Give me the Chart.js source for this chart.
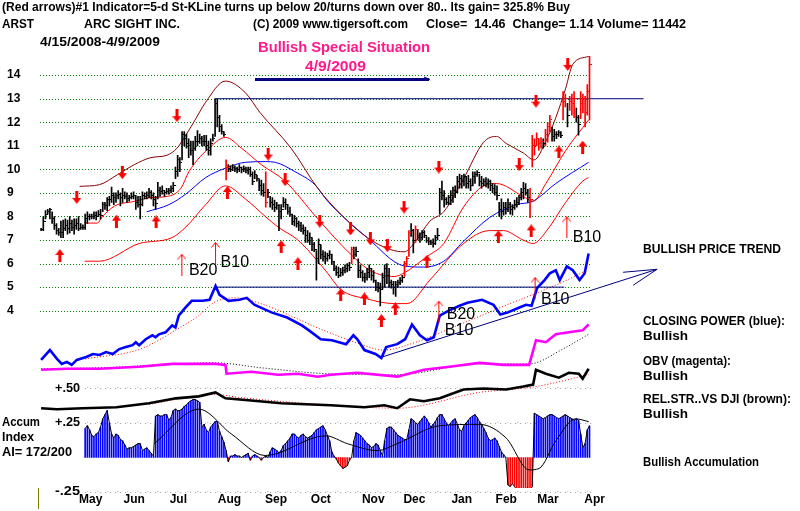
<!DOCTYPE html>
<html><head><meta charset="utf-8">
<script src="https://cdn.jsdelivr.net/npm/chart.js@4/dist/chart.umd.min.js"></script>
<style>html,body{margin:0;padding:0;background:#fff;}#wrap{width:800px;height:511px;}</style>
</head><body><div id="wrap"><canvas id="c" width="800" height="511"></canvas></div>
<script>
// ---------- DATA ----------
const monthLabels = ['May','Jun','Jul','Aug','Sep','Oct','Nov','Dec','Jan','Feb','Mar','Apr'];
const monthTickDays = [22.5,42.3,62.3,85.5,106.7,127,150.8,169.5,191,211.2,230.1,251.3];
const priceTicks = [4,5,6,7,8,9,10,11,12,13,14];

const highs = [7.5,8.0,8.25,8.3,8.35,8.2,8.0,7.7,7.5,7.8,
7.85,7.9,7.85,8.0,7.85,7.9,7.9,8.0,7.7,7.65,
8.1,8.2,8.1,8.1,8.2,8.2,8.25,8.3,8.6,8.6,
8.8,8.85,9.25,9.0,9.0,9.1,9.0,9.2,9.05,9.0,
8.9,9.0,9.05,8.9,8.85,8.85,9.05,9.0,9.05,9.2,
9.1,9.0,8.85,9.45,9.25,9.3,9.1,9.2,9.2,9.3,
9.45,10.1,10.6,10.5,11.6,11.6,11.5,11.3,11.2,11.2,
11.4,11.65,11.5,11.4,11.45,11.45,11.2,11.3,11.5,13.0,
13.0,12.3,11.9,11.6,10.4,10.2,10.15,10.2,10.15,10.1,
10.2,10.1,10.15,10.1,10.1,10.1,9.9,9.95,9.75,9.6,
9.55,9.4,9.9,9.15,8.85,8.8,8.7,8.6,8.5,8.5,
8.8,8.75,8.5,8.4,8.1,8.05,7.95,7.8,7.75,7.65,
7.55,7.4,7.3,7.1,6.9,6.55,7.05,6.8,6.55,6.5,
6.45,6.55,6.4,6.1,5.9,5.85,5.8,5.85,5.95,6.0,
6.05,6.7,6.7,6.7,6.2,5.95,5.7,5.6,5.8,5.95,
5.8,5.7,5.3,5.2,5.17,5.6,5.95,6.0,5.8,5.3,
5.25,5.25,5.3,5.4,5.5,6.1,6.3,7.4,7.7,7.45,
7.6,7.45,7.3,7.4,7.4,7.15,7.1,7.0,7.05,7.2,
7.5,9.2,9.5,9.1,8.8,8.9,9.1,9.25,9.3,9.7,
9.8,9.75,9.8,9.7,9.75,9.6,9.9,9.9,9.95,9.8,
9.7,9.6,9.65,9.6,9.55,9.4,9.35,9.3,8.6,8.75,
8.6,8.6,8.75,8.6,8.5,8.7,8.8,8.9,9.2,9.45,
9.4,9.15,9.2,11.45,11.3,11.55,11.3,11.35,11.3,11.7,
12.0,12.3,11.8,11.7,11.6,11.65,11.6,13.3,13.2,12.8,
13.1,13.2,13.3,12.6,12.3,13.3,13.2,13.1,13.6,14.8];

const lows = [7.4,7.4,7.9,8.1,7.9,7.7,7.45,7.25,7.2,7.1,
7.1,7.4,7.25,7.3,7.4,7.25,7.45,7.4,7.45,7.45,
7.45,7.7,7.85,7.9,7.9,7.85,8.0,7.9,8.2,8.3,
8.25,8.45,8.6,8.5,8.6,8.75,8.45,8.6,8.75,8.6,
8.65,8.75,8.75,8.3,8.4,7.9,8.45,8.75,8.75,8.8,
8.75,8.45,8.3,8.75,8.85,8.95,8.85,8.95,8.95,9.0,
9.05,9.6,9.7,9.9,10.4,11.0,10.9,10.5,10.6,10.2,
10.8,11.0,11.1,11.0,11.0,10.8,10.6,10.6,11.2,11.4,
11.8,11.6,11.5,11.4,9.55,9.9,9.9,9.95,9.9,9.85,
9.9,9.85,9.9,9.85,9.8,9.7,9.35,9.6,9.5,9.1,
8.9,8.85,8.4,8.8,8.4,8.3,8.2,8.3,7.4,7.9,
8.4,8.3,8.1,8.0,7.65,7.6,7.55,7.4,7.35,7.25,
6.9,6.9,6.8,6.55,6.5,5.3,6.0,6.2,6.1,6.0,
6.1,6.2,5.95,5.7,5.5,5.4,5.45,5.5,5.6,5.65,
5.7,6.0,6.2,6.3,5.4,5.4,5.25,5.2,5.3,5.4,
5.3,5.2,4.85,4.8,4.2,4.9,5.0,5.15,5.0,4.95,
4.7,4.6,5.0,5.1,5.2,5.45,5.9,6.3,7.15,6.45,
6.9,7.0,6.9,7.0,7.1,6.9,6.8,6.8,6.7,6.8,
7.0,8.1,8.7,8.4,8.5,8.5,8.5,8.6,8.8,9.0,
9.2,9.2,9.3,9.2,9.2,9.1,9.3,9.4,9.7,9.3,
9.2,9.3,9.25,9.2,9.1,9.0,8.9,8.7,8.0,7.9,
8.05,8.1,8.2,8.1,8.05,8.3,8.4,8.5,8.7,8.75,
8.9,8.6,7.95,10.1,10.6,11.0,10.8,10.9,10.9,11.0,
11.15,11.6,11.2,11.2,11.3,11.4,11.35,12.1,12.65,11.8,
12.5,12.3,12.2,12.0,11.45,12.15,12.4,11.8,12.3,12.1];

const closes = [7.45,7.8,8.1,8.2,8.3,7.9,7.6,7.4,7.3,7.3,
7.5,7.6,7.5,7.7,7.55,7.6,7.7,7.5,7.55,7.55,
7.9,8.0,8.0,8.0,8.05,8.0,8.1,8.05,8.5,8.45,
8.7,8.7,8.9,8.8,8.9,8.95,8.8,8.9,8.85,8.75,
8.8,8.85,8.9,8.6,8.5,8.5,8.9,8.85,8.9,9.0,
8.9,8.7,8.55,9.1,9.05,9.1,9.0,9.05,9.1,9.2,
9.3,9.9,10.4,10.3,11.5,11.3,11.1,11.0,10.8,10.9,
11.2,11.2,11.3,11.2,11.2,11.0,10.8,11.1,11.3,12.8,
12.2,11.8,11.6,11.5,10.1,10.05,10.0,10.1,10.05,10.0,
10.1,10.0,10.05,9.95,10.0,9.8,9.5,9.8,9.6,9.3,
9.1,9.0,8.6,9.0,8.6,8.5,8.4,8.45,8.2,8.3,
8.6,8.5,8.2,8.1,7.8,7.9,7.7,7.6,7.5,7.4,
7.2,7.0,7.1,6.8,6.6,6.2,6.8,6.4,6.3,6.2,
6.35,6.4,6.1,5.8,5.6,5.5,5.6,5.7,5.8,5.9,
5.85,6.6,6.4,6.5,5.7,5.6,5.4,5.4,5.6,5.8,
5.5,5.3,5.0,4.95,4.9,5.4,5.8,5.5,5.2,5.1,
5.0,5.1,5.2,5.3,5.4,6.0,6.2,7.3,7.4,7.0,
7.45,7.2,7.1,7.3,7.2,7.0,6.95,6.9,6.85,7.1,
7.2,9.0,8.9,8.7,8.6,8.8,8.9,9.1,9.0,9.5,
9.6,9.5,9.7,9.4,9.5,9.3,9.7,9.8,9.85,9.5,
9.4,9.5,9.4,9.5,9.3,9.2,9.0,8.9,8.3,8.2,
8.4,8.3,8.5,8.3,8.4,8.5,8.6,8.8,9.0,9.2,
9.0,8.8,8.7,11.0,11.0,11.3,11.1,11.2,11.1,11.5,
11.8,12.1,11.4,11.5,11.5,11.55,11.45,12.9,13.0,12.3,
12.9,12.8,13.0,12.2,11.9,12.8,13.0,12.4,13.32,14.46];

const signalBars = [84,102,141,165,166,167,170,222,223,224,225,226,227,229,230,231,237,238,240,241,242,245,246,247,248,249];

const upperBand = [[17.5,9.28],[26.5,9.35],[34.6,9.77],[42.3,10.2],[49.9,10.5],[57.2,10.6],[61.7,10.9],[64,11.2],[69.3,12.0],[74.7,12.85],[83.7,13.75],[92.7,13.26],[99.5,12.4],[113.5,10.9],[125.6,9.2],[136,8.1],[148.1,7.1],[158.5,6.6],[164.8,6.5],[169.3,6.85],[176.5,7.8],[182.8,8.2],[191.8,9.6],[200.9,11.15],[206.7,11.4],[211.2,11.1],[218.9,10.7],[223.8,10.4],[229.2,11.2],[233.7,12.2],[238.2,13.45],[241.4,14.46],[248.6,14.8]];
const upperInner = [[19.8,7.72],[25.6,7.72],[27.5,7.95],[33.3,8.44],[42.3,8.64],[50,8.8],[57.2,8.85],[63.5,9.2],[67.1,9.9],[77.4,11.0],[83.7,11.36],[91,10.9],[100,10.2],[110.8,9.5],[125.6,7.9],[140.5,6.4],[149.5,5.7],[160.3,5.45],[164.8,5.6],[175.2,6.3],[182.8,6.85],[191.8,8.4],[200.9,9.3],[206.7,9.4],[218.9,8.85],[223.4,8.65],[229.2,9.4],[238.2,10.8],[248.6,12.1]];
const movingAvg = [[48,8.2],[58,8.5],[65.7,8.95],[74.7,9.65],[83.7,10.05],[92.7,10.3],[101.8,10.33],[106.3,10.3],[115.3,9.9],[124.3,9.35],[130.1,8.65],[148.1,7.1],[164.8,5.9],[173.8,5.85],[182.8,6.1],[191.8,6.95],[203.6,7.95],[215.7,8.5],[223.4,8.65],[233.7,9.4],[248.6,10.3]];
const lowerBand = [[19.8,6.1],[26.5,6.1],[44.5,6.85],[59.4,7.1],[65.7,7.55],[74.7,8.5],[83.7,9.3],[92.7,8.75],[101.8,8.0],[107.6,7.55],[116.6,7.0],[125.6,6.1],[130,5.6],[136,4.9],[148,4.5],[160.3,4.3],[166.2,4.3],[176.5,5.3],[191.8,6.85],[203.6,7.4],[209.9,7.4],[218.9,7.0],[223.4,6.85],[229.2,7.35],[238.2,8.6],[245.9,9.5],[248.6,9.65]];

const resistanceLine = [[79,13],[273.5,13]];
const supportLine = [[79,5],[237.5,5]];

const sellArrows = [[16.2,8.81],[36.9,9.86],[61.7,12.28],[103.1,10.65],[110.8,9.56],[126.5,7.8],[140.5,7.47],[149.5,7.05],[157.2,6.76],[164.8,8.4],[180.6,10.1],[217.1,10.2],[224.7,12.9],[239.1,14.46]];
const buyArrows = [[8.5,6.34],[34.2,7.8],[52.2,7.77],[84.6,9.02],[109,6.72],[116.6,6.0],[136,4.67],[146.8,4.5],[154.5,3.58],[160.8,4.08],[175.2,6.1],[207.6,7.14],[222.5,7.39],[235.1,10.74],[245.9,10.95]];
const thinArrows = [[63.9,5.95],[79.2,6.45],[180.6,3.96],[238.7,7.54],[224.3,4.96]];
const signalNames = ['B20','B10','B20','B10','B10','B10'];
const signalSpots = [[67.1,5.72],[81.5,6.05],[184.2,3.83],[183.3,3.16],[241.4,7.1],[227,4.46]];

const closingPower = [[0,12],[4,22],[7.2,13],[9.4,8],[11.7,10],[13.9,7],[16.2,12],[20.5,15],[23.5,18],[26.5,17],[29.5,20],[32.5,18],[35.5,23],[38.5,25],[41.5,27],[43,30],[44.5,27],[47.5,33],[50.5,37],[52,35],[53.5,38],[56.5,40],[59.5,47],[61,45],[62.5,57],[65.5,65],[68.4,72],[73.4,72],[76.5,73],[79.2,87],[81,78],[85.1,72],[90,73],[93.4,75],[96.8,68],[101.8,63],[104.9,60],[111.7,55],[118.4,47],[121.6,42],[127,33],[132,32],[138.5,28],[141.8,37],[143.6,33],[146.8,22],[151.8,18],[154.5,14],[156.7,25],[161.7,28],[165.3,33],[168.4,48],[172,37],[175.2,32],[178.3,35],[181,57],[185.1,62],[190,67],[193.6,70],[200.2,73],[205.4,68],[208.5,58],[211.7,60],[216.9,65],[220.2,68],[222.7,67],[225.2,85],[228.6,93],[231,100],[233.7,103],[235.5,93],[238.7,107],[241.4,103],[244.5,93],[246.8,100],[248.6,120]];
const closingPowerMA = [[20,13],[45,23],[61.7,43],[71.6,57],[78.3,70],[88.2,75],[98.6,70],[128.3,42],[145,28],[155.1,22],[170.2,30],[186.9,45],[211.7,68],[225.2,80],[238.7,93],[247.7,103]];
const trendLine = [[154.9,15],[279.7,104]];

const obv = [[0,12],[11.7,13],[26.5,13],[44.5,15],[59.4,18],[71.6,18],[79.2,18],[83.7,17],[84.2,8],[95.5,10],[107.6,7],[116.6,8],[125.6,5],[131.5,7],[143.6,9],[161.7,5],[173.8,12],[185.5,15],[199,19],[209.9,17],[221.6,17],[224.7,42],[229.2,40],[233.7,48],[239.6,50],[245.9,52],[248.6,58]];
const obvMA = [[0,13],[26.5,14],[79.2,19],[100,14],[130,8],[161.7,7],[199,18],[221.6,18],[236.9,33],[248.6,48]];

const relStrength = [[0,13],[7.2,12],[18.9,13],[34.2,14],[49,18],[61.2,23],[71.6,25],[79.2,29],[83.7,23],[94.1,21],[109,18],[131.5,16],[146.8,14],[155.8,16],[161.7,13],[167.5,22],[173.8,20],[181,23],[191.8,32],[200.9,33],[211.2,32],[218.9,35],[223.4,37],[224.7,52],[229.2,48],[235.1,44],[239.6,49],[244.1,48],[245.9,43],[248.6,53]];
const relStrengthMA = [[49,17],[79.2,27],[89.6,24],[139.1,15],[161.7,13],[199,29],[224.7,35],[248.6,47]];

const aiStart = 20;
const aiValues = [.21,.23,.20,.16,.15,.17,.18,.22,.28,.31,
.34,.25,.17,.14,.17,.16,.13,.12,.09,.06,
.07,.07,.08,.09,.10,.10,.05,.06,.07,.05,
.03,.01,.30,.31,.30,.30,.31,.31,.27,.29,
.34,.35,.34,.34,.35,.37,.38,.40,.41,.42,
.42,.41,.40,.22,.24,.20,.18,.22,.24,.26,
.26,.19,.15,.11,.05,-.03,.01,.01,.02,.01,
.01,.00,.01,.02,.03,-.02,.01,.02,.01,.00,
-.02,.00,.01,.00,.04,.07,.06,.05,.035,.05,
.086,.10,.12,.14,.17,.17,.15,.14,.16,.17,
.15,.14,.15,.16,.18,.20,.21,.22,.23,.20,
.16,.12,.04,.01,-.01,-.04,-.06,-.08,-.07,-.06,
-.02,.00,.12,.18,.17,.16,.14,.12,.10,.09,
.07,.08,.10,.09,.05,.01,.12,.21,.22,.22,
.20,.18,.16,.15,.14,.13,.13,.20,.28,.27,
.25,.24,.26,.28,.30,.28,.25,.22,.24,.26,
.29,.31,.31,.28,.25,.23,.25,.27,.28,.24,
.20,.19,.23,.25,.27,.29,.30,.31,.29,.26,
.24,.21,.18,.14,.12,.13,.14,.12,.08,.04,
.02,.00,-.20,-.21,-.19,-.21,-.24,-.25,-.26,-.25,
-.23,-.22,-.24,-.21,.32,.31,.30,.29,.28,.29,
.30,.31,.31,.30,.29,.28,.29,.30,.31,.30,
.29,.28,.27,.28,.27,.17,.07,.10,.20,.23];
const aiMA = [[51.3,.10],[71.6,.35],[86.4,.17],[101.8,.014],[129.2,.157],[139.1,.10],[152.6,.05],[161.7,.10],[181,.23],[199,.24],[211.2,.14],[221.6,-.09],[226.1,-.08],[233.7,.12],[242.7,.28],[248.6,.26]];
const aiLevels = [0.5, 0.25, -0.25];
const aiLevelLabels = ['+.50','+.25','-.25'];

// ---------- rendering ----------
const FONT = '"Liberation Sans", Arial, sans-serif';
const RED = '#ff0000', BLUE = '#0000ff', NAVY = '#000080';
const xy = a => a.map(([x,y]) => ({x, y}));
function mk(w,h,fn){const c=document.createElement('canvas');c.width=w;c.height=h;fn(c.getContext('2d'));return c;}
const upImg = mk(9,13,g=>{g.fillStyle=RED;g.beginPath();g.moveTo(4.5,0);g.lineTo(9,6);g.lineTo(0,6);g.closePath();g.fill();g.fillRect(3,5,3,8);});
const downImg = mk(9,13,g=>{g.fillStyle=RED;g.fillRect(3,0,3,8);g.beginPath();g.moveTo(0,7);g.lineTo(9,7);g.lineTo(4.5,13);g.closePath();g.fill();});
const thinImg = mk(9,22,g=>{g.strokeStyle=RED;g.lineWidth=1;g.beginPath();g.moveTo(4.5,0.5);g.lineTo(4.5,22);g.moveTo(0.5,5.5);g.lineTo(4.5,0.5);g.lineTo(8.5,5.5);g.stroke();});
const tickBlack = mk(5,1,g=>{g.fillStyle='#000';g.fillRect(3,0,2,1);});
const tickRed = mk(5,1,g=>{g.fillStyle=RED;g.fillRect(3,0,2,1);});
const isSignal = i => signalBars.includes(i);

function fitText(ctx, text, x, y, w, font, color){
  ctx.save(); ctx.font = font; ctx.fillStyle = color; ctx.textBaseline = 'middle'; ctx.textAlign = 'left';
  const m = ctx.measureText(text).width;
  ctx.translate(x, y); ctx.scale(w / m, 1); ctx.fillText(text, 0, 0); ctx.restore();
}

const line = (data, axis, color, width, extra={}) => Object.assign({type:'line', data: xy(data), yAxisID: axis, borderColor: color, borderWidth: width, pointRadius: 0, fill:false, tension: 0}, extra);

const decor = {
  id: 'decor',
  beforeDatasetsDraw(chart){
    const ctx = chart.ctx, xs = chart.scales.x, ps = chart.scales.price, ai = chart.scales.accum;
    ctx.save();
    ctx.strokeStyle = '#008000'; ctx.lineWidth = 1; ctx.setLineDash([1,2]);
    const x0 = xs.getPixelForValue(-0.5), x1 = xs.getPixelForValue(250);
    priceTicks.forEach(v => { const y = Math.round(ps.getPixelForValue(v)) + 0.5; ctx.beginPath(); ctx.moveTo(x0, y); ctx.lineTo(x1, y); ctx.stroke(); });
    ctx.setLineDash([]); ctx.fillStyle = '#fff'; ctx.fillRect(255, 60, 223, 15);
    // AI reference rows
    const ax0 = xs.getPixelForValue(aiStart), ax1 = xs.getPixelForValue(250);
    aiLevels.forEach(v => {
      const y = Math.round(ai.getPixelForValue(v)) + 0.5;
      ctx.strokeStyle = '#999999'; ctx.setLineDash([1,4]);
      ctx.beginPath(); ctx.moveTo(ax0, y); ctx.lineTo(ax1, y); ctx.stroke();
      ctx.strokeStyle = '#ff99cc'; ctx.setLineDash([1,9]);
      ctx.beginPath(); ctx.moveTo(ax0 + 2, y - 1); ctx.lineTo(ax1, y - 1); ctx.stroke();
    });
    ctx.restore();
  },
  afterDatasetsDraw(chart){
    const ctx = chart.ctx, xs = chart.scales.x, ps = chart.scales.price, ai = chart.scales.accum, cp = chart.scales.power;
    ctx.save();
    // trend arrow barbs
    const tip = {x: xs.getPixelForValue(trendLine[1][0]), y: cp.getPixelForValue(trendLine[1][1])};
    ctx.strokeStyle = NAVY; ctx.lineWidth = 1;
    ctx.beginPath(); ctx.moveTo(tip.x, tip.y); ctx.lineTo(tip.x - 34, tip.y + 3); ctx.moveTo(tip.x, tip.y); ctx.lineTo(tip.x - 24, tip.y + 16); ctx.stroke();
    // headline underline
    ctx.lineWidth = 3; ctx.beginPath(); ctx.moveTo(255, 79.5); ctx.lineTo(429, 79.5); ctx.stroke();
    ctx.lineWidth = 1; ctx.beginPath(); ctx.moveTo(424, 77); ctx.lineTo(430, 79.5); ctx.stroke();
    // signal labels
    ctx.fillStyle = '#000'; ctx.font = '16px ' + FONT; ctx.textBaseline = 'middle'; ctx.textAlign = 'left';
    signalNames.forEach((t, i) => ctx.fillText(t, xs.getPixelForValue(signalSpots[i][0]), ps.getPixelForValue(signalSpots[i][1])));
    // header texts
    const last = closes.length - 1;
    fitText(ctx, '(Red arrows)#1 Indicator=5-d St-KLine turns up below 20/turns down over 80.. Its gain= 325.8% Buy', 2, 8, 568, 'bold 12px ' + FONT, '#000');
    fitText(ctx, 'ARST', 2, 25, 32, 'bold 12px ' + FONT, '#000');
    fitText(ctx, 'ARC SIGHT INC.', 84, 25, 96, 'bold 12px ' + FONT, '#000');
    fitText(ctx, '(C) 2009 www.tigersoft.com', 253, 25, 155, 'bold 12px ' + FONT, '#000');
    fitText(ctx, 'Close=  ' + closes[last].toFixed(2) + '  Change= ' + (closes[last] - closes[last-1]).toFixed(2) + ' Volume= 11442', 426, 25, 260, 'bold 12px ' + FONT, '#000');
    fitText(ctx, '4/15/2008-4/9/2009', 40, 43, 120, 'bold 12px ' + FONT, '#000');
    fitText(ctx, 'Bullish Special Situation', 258, 48, 172, 'bold 15px ' + FONT, '#ff1a8c');
    fitText(ctx, '4/9/2009', 305, 67, 61, 'bold 15px ' + FONT, '#ff1a8c');
    // right-side notes
    const notes = [['BULLISH PRICE TREND',250,138],['CLOSING POWER (blue):',322,142],['Bullish',337,45],['OBV (magenta):',362,88],['Bullish',377,45],['REL.STR..VS DJI (brown):',400,148],['Bullish',415,45],['Bullish Accumulation',463,116]];
    notes.forEach(([t,y,w]) => fitText(ctx, t, 643, y, w, 'bold 12px ' + FONT, '#000'));
    fitText(ctx, 'Accum', 2, 423, 38, 'bold 12px ' + FONT, '#000');
    fitText(ctx, 'Index', 2, 438, 32, 'bold 12px ' + FONT, '#000');
    fitText(ctx, 'AI= 172/200', 2, 453, 70, 'bold 12px ' + FONT, '#000');
    aiLevels.forEach((v, i) => fitText(ctx, aiLevelLabels[i], 55, ai.getPixelForValue(v), 25, 'bold 12px ' + FONT, '#000'));
    ctx.strokeStyle = '#808000'; ctx.lineWidth = 1; ctx.beginPath(); ctx.moveTo(38.5, 488); ctx.lineTo(38.5, 509); ctx.stroke();
    ctx.restore();
  }
};

new Chart(document.getElementById('c'), {
  type: 'line',
  data: { datasets: [
    {type:'line', data: xy(sellArrows), yAxisID:'price', showLine:false, pointStyle: downImg, pointRadius: 5, order: 1},
    {type:'line', data: xy(buyArrows), yAxisID:'price', showLine:false, pointStyle: upImg, pointRadius: 5, order: 1},
    {type:'line', data: xy(thinArrows), yAxisID:'price', showLine:false, pointStyle: thinImg, pointRadius: 5, order: 1},
    {type:'line', data: closes.map((c,i)=>({x:i, y:c})), yAxisID:'price', showLine:false, pointRadius: 2,
      pointStyle: ctx => isSignal(ctx.dataIndex) ? tickRed : tickBlack, order: 2},
    {type:'bar', data: highs.map((h,i)=>({x:i, y:[lows[i], h]})), yAxisID:'price', barThickness: 1, grouped: false,
      backgroundColor: ctx => isSignal(ctx.dataIndex) ? RED : '#000', borderWidth: 0, order: 3},
    line(resistanceLine, 'price', NAVY, 1, {order: 4}),
    line(supportLine, 'price', NAVY, 1, {order: 4}),
    line(upperBand, 'price', '#880000', 1, {cubicInterpolationMode:'monotone', order: 5}),
    line(upperInner, 'price', RED, 1, {cubicInterpolationMode:'monotone', order: 5}),
    line(movingAvg, 'price', BLUE, 1, {cubicInterpolationMode:'monotone', order: 5}),
    line(lowerBand, 'price', RED, 1, {cubicInterpolationMode:'monotone', order: 5}),
    line(trendLine, 'power', NAVY, 1, {order: 6}),
    line(closingPower, 'power', BLUE, 2.6, {order: 7}),
    line(closingPowerMA, 'power', RED, 1, {borderDash:[1,2], cubicInterpolationMode:'monotone', order: 8}),
    line(obv, 'volume', '#ff00ff', 2.6, {order: 7}),
    line(obvMA, 'volume', '#000', 1, {borderDash:[1,2], cubicInterpolationMode:'monotone', order: 8}),
    line(relStrength, 'strength', '#000', 2.6, {order: 7}),
    line(relStrengthMA, 'strength', RED, 1, {borderDash:[1,2], cubicInterpolationMode:'monotone', order: 8}),
    line(aiMA, 'accum', '#000', 1, {cubicInterpolationMode:'monotone', order: 9}),
    {type:'line', data: aiValues.map((v,i)=>({x: aiStart+i, y: v})), yAxisID:'accum', borderColor:'#000', borderWidth:1, pointRadius:0, order: 9},
    {type:'bar', data: aiValues.map((v,i)=>({x: aiStart+i, y: v})), yAxisID:'accum', barThickness: 1, grouped: false,
      backgroundColor: ctx => (ctx.raw && ctx.raw.y < 0) ? RED : BLUE, borderWidth: 0, order: 10}
  ]},
  options: {
    responsive: false, animation: false, devicePixelRatio: 1,
    layout: {padding: {left: 7, right: 0, top: 0, bottom: 0}},
    plugins: {legend: {display: false}, tooltip: {enabled: false}},
    scales: {
      x: {type:'linear', axis:'x', position:'bottom', min:-0.5, max:341.85, offset:false,
        grid:{display:false, drawTicks:false}, border:{display:false},
        afterFit: s => { s.height = 23; },
        afterBuildTicks: s => { s.ticks = monthTickDays.map(v => ({value: v})); },
        ticks:{autoSkip:false, maxRotation:0, minRotation:0, padding:4, color:'#000', font:{family:FONT, size:12, weight:'bold'},
          callback: v => { const i = monthTickDays.indexOf(v); return i >= 0 ? monthLabels[i] : ''; }}},
      price: {type:'linear', axis:'y', position:'left', min:-3.531, max:16.887,
        grid:{display:false, drawTicks:false}, border:{display:false},
        afterFit: s => { s.width = 33; },
        afterBuildTicks: s => { s.ticks = priceTicks.map(v => ({value: v})); },
        ticks:{autoSkip:false, crossAlign:'far', padding:0, color:'#000', font:{family:FONT, size:12, weight:'bold'}}},
      power: {type:'linear', axis:'y', position:'right', display:false, min:-118, max:370},
      volume: {type:'linear', axis:'y', position:'right', display:false, min:-108, max:380},
      strength: {type:'linear', axis:'y', position:'right', display:false, min:-68, max:420},
      accum: {type:'linear', axis:'y', position:'right', display:false, min:-0.22143, max:3.26429}
    }
  },
  plugins: [decor]
});
</script>
</body></html>
